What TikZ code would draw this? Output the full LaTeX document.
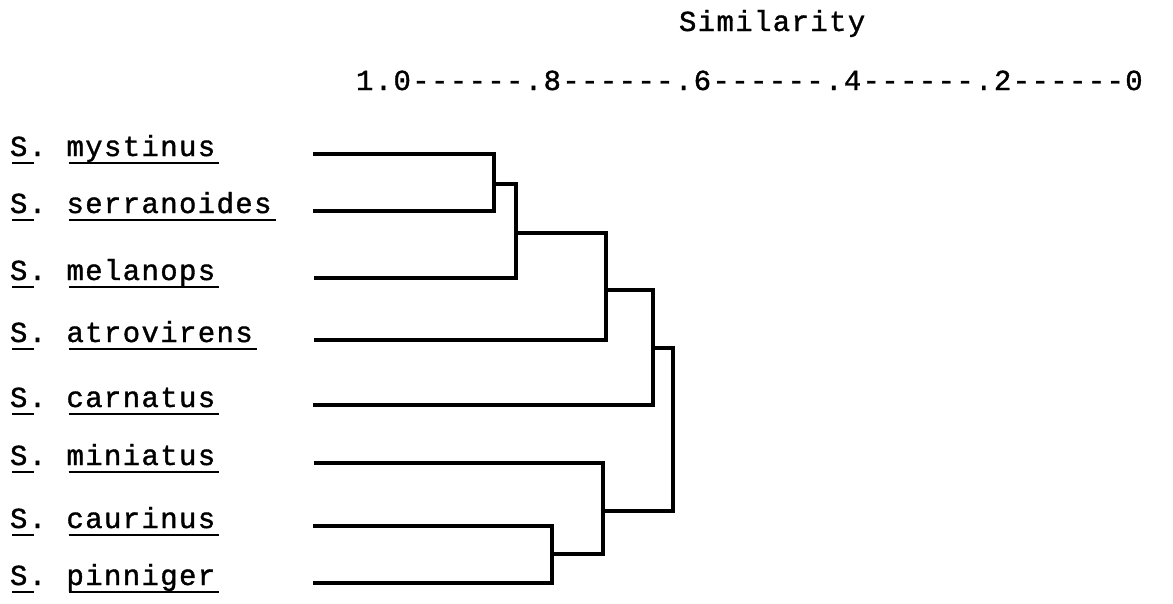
\documentclass[tikz,border=0pt]{standalone}
\usepackage{fontspec}
\newfontfamily\tw{Liberation Mono}[LetterSpace=4.7,FakeBold=1.2]
\begin{document}
\begin{tikzpicture}[x=1pt,y=-1pt,
  txt/.style={inner sep=0pt,outer sep=0pt,anchor=base west,font=\tw\fontsize{29}{29}\selectfont},
  branch/.style={line width=3.2pt,line join=miter},
  uline/.style={line width=2.2pt}]
\useasboundingbox[fill=white] (0,0) rectangle (1173,603);
% heading and scale
\node[txt] (sim) at (679,31) {Similarity};
\node[txt] (axis) at (356,90) {1.0------.8------.6------.4------.2------0};
% labels
\foreach \nm/\lab/\y in {a/mystinus/156,b/serranoides/213,c/melanops/280,d/atrovirens/342,
                         e/carnatus/407,f/miniatus/465,g/caurinus/528,h/pinniger/585}{
  \node[txt] (s\nm) at (10,\y) {S.};
  \node[txt] (t\nm) at (66.5,\y) {\lab};
  \draw[uline] ([xshift=2pt,yshift=-7pt]s\nm.base west) -- ([xshift=24pt,yshift=-7pt]s\nm.base west);
  \draw[uline] ([xshift=2pt,yshift=-7pt]t\nm.base west) -- ([xshift=4pt,yshift=-7pt]t\nm.base east);
}
% leaf starts
\coordinate (La) at (313,154);
\coordinate (Lb) at (313,211);
\coordinate (Lc) at (314,278);
\coordinate (Ld) at (314,340);
\coordinate (Le) at (313,405);
\coordinate (Lf) at (314,463);
\coordinate (Lg) at (313,526);
\coordinate (Lh) at (313,583);
% internal nodes
\coordinate (N1) at (494,184);
\coordinate (N2) at (516,233);
\coordinate (N3) at (606,290);
\coordinate (N4) at (653,348);
\coordinate (N5) at (552,554);
\coordinate (N6) at (603,511);
\coordinate (N7) at (673,430);
% branches
\draw[branch] (La) -| (N1);
\draw[branch] (Lb) -| (N1);
\draw[branch] (N1) -| (N2);
\draw[branch] (Lc) -| (N2);
\draw[branch] (N2) -| (N3);
\draw[branch] (Ld) -| (N3);
\draw[branch] (N3) -| (N4);
\draw[branch] (Le) -| (N4);
\draw[branch] (Lg) -| (N5);
\draw[branch] (Lh) -| (N5);
\draw[branch] (Lf) -| (N6);
\draw[branch] (N5) -| (N6);
\draw[branch] (N4) -| (N7);
\draw[branch] (N6) -| (N7);
\end{tikzpicture}
\end{document}
